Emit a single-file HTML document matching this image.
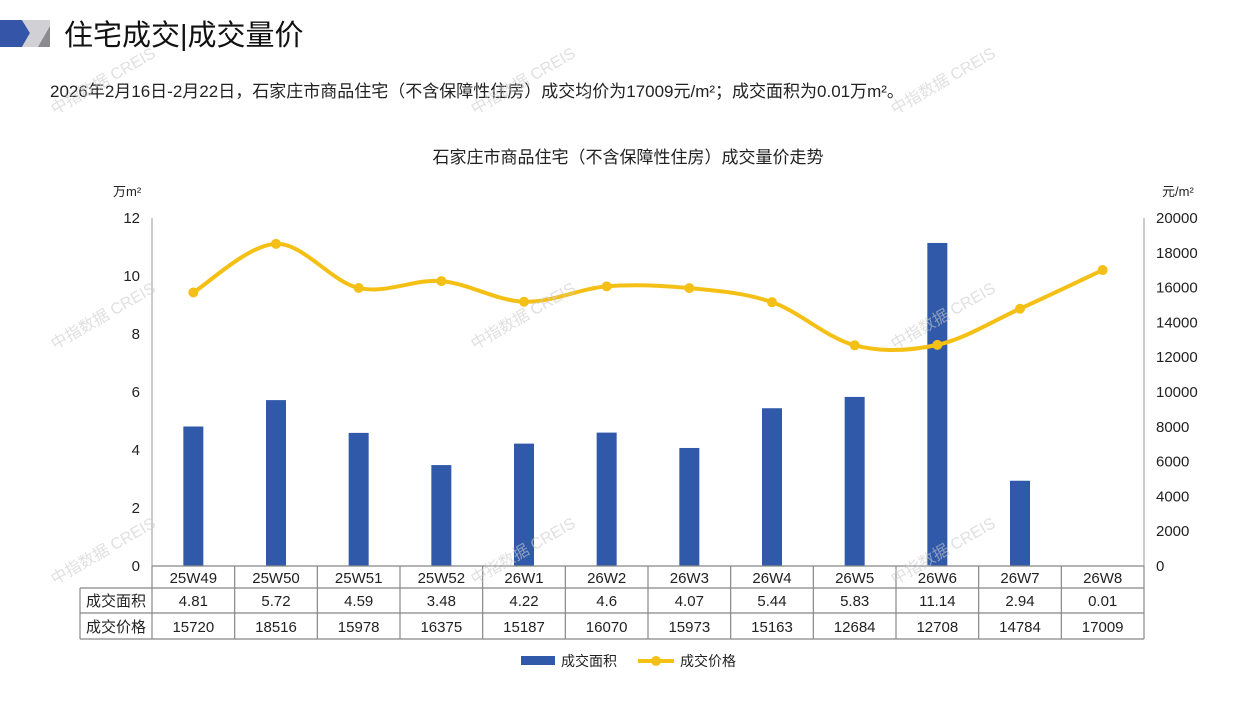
<!DOCTYPE html>
<html><head><meta charset="utf-8"><style>
body{margin:0;background:#fff;width:1257px;height:706px;overflow:hidden;font-family:"Liberation Sans","Noto Sans CJK SC",sans-serif;}
svg text{font-family:"Liberation Sans","Noto Sans CJK SC",sans-serif;}
</style></head><body>
<svg id="s" width="1257" height="706" xmlns="http://www.w3.org/2000/svg">
<polygon points="0,20 22,20 30,33 22,47 0,47" fill="#3556a8"/>
<polygon points="22,20 50,20 50,47 22,47 30,33" fill="#d0d0d5"/>
<polygon points="50,26 50,47 38,47" fill="#8a8a8f"/>
<text x="64" y="45" font-size="29" fill="#111">住宅成交|成交量价</text>
<text x="50" y="97" font-size="17" fill="#222">2026年2月16日-2月22日，石家庄市商品住宅（不含保障性住房）成交均价为17009元/m²；成交面积为0.01万m²。</text>
<text x="628" y="163" font-size="17" fill="#222" text-anchor="middle">石家庄市商品住宅（不含保障性住房）成交量价走势</text>
<text x="113" y="196" font-size="13" fill="#222">万m²</text>
<text x="1162" y="196" font-size="13" fill="#222">元/m²</text>
<g id="ax" font-size="15" fill="#222"></g>
<line x1="152" y1="218" x2="152" y2="566" stroke="#999"/>
<line x1="1144" y1="218" x2="1144" y2="566" stroke="#999"/>
<g id="bars" fill="#3059a9"></g>
<path id="ln" fill="none" stroke="#f5c016" stroke-width="4"/>
<g id="pts" fill="#f5c016"></g>
<g id="tbl" stroke="#888" stroke-width="1.2" fill="none"></g>
<g id="tt" font-size="15" fill="#222" text-anchor="middle"></g>
<rect x="521" y="656" width="34" height="9" fill="#3059a9"/>
<text x="561" y="666" font-size="14" fill="#222">成交面积</text>
<line x1="638" y1="661" x2="674" y2="661" stroke="#f5c016" stroke-width="4"/>
<circle cx="656" cy="661" r="5" fill="#f5c016"/>
<text x="680" y="666" font-size="14" fill="#222">成交价格</text>
<g font-size="16" fill="#ccc" opacity="0.6">
<text transform="translate(55,115) rotate(-30)">中指数据 CREIS</text>
<text transform="translate(475,115) rotate(-30)">中指数据 CREIS</text>
<text transform="translate(895,115) rotate(-30)">中指数据 CREIS</text>
<text transform="translate(55,350) rotate(-30)">中指数据 CREIS</text>
<text transform="translate(475,350) rotate(-30)">中指数据 CREIS</text>
<text transform="translate(895,350) rotate(-30)">中指数据 CREIS</text>
<text transform="translate(55,585) rotate(-30)">中指数据 CREIS</text>
<text transform="translate(475,585) rotate(-30)">中指数据 CREIS</text>
<text transform="translate(895,585) rotate(-30)">中指数据 CREIS</text>
</g>
</svg>
<script>
const NS="http://www.w3.org/2000/svg";
function el(p,t,a,txt){const e=document.createElementNS(NS,t);for(const k in a)e.setAttribute(k,a[k]);if(txt!==undefined)e.textContent=txt;document.getElementById(p).appendChild(e);}
const cats=["25W49","25W50","25W51","25W52","26W1","26W2","26W3","26W4","26W5","26W6","26W7","26W8"];
const area=["4.81","5.72","4.59","3.48","4.22","4.6","4.07","5.44","5.83","11.14","2.94","0.01"];
const price=[15720,18516,15978,16375,15187,16070,15973,15163,12684,12708,14784,17009];
const w=(1144-152)/12;
for(let i=0;i<=6;i++){const y=566-i*58;el("ax","text",{x:140,y:y+5,"text-anchor":"end"},String(i*2));}
for(let i=0;i<=10;i++){const y=566-i*34.8;el("ax","text",{x:1156,y:y+5},String(i*2000));}
const P=[];
for(let i=0;i<12;i++){const cx=152+w*(i+0.5);const h=parseFloat(area[i])*29;el("bars","rect",{x:cx-10,y:566-h,width:20,height:h});
P.push([cx,566-price[i]*0.0174]);}
let d="M"+P[0];for(let i=0;i<11;i++){const p0=P[Math.max(0,i-1)],p1=P[i],p2=P[i+1],p3=P[Math.min(11,i+2)];
const c1=[p1[0]+(p2[0]-p0[0])/6,p1[1]+(p2[1]-p0[1])/6],c2=[p2[0]-(p3[0]-p1[0])/6,p2[1]-(p3[1]-p1[1])/6];d+=" C"+c1+" "+c2+" "+p2;}
document.getElementById("ln").setAttribute("d",d);
P.forEach(p=>el("pts","circle",{cx:p[0],cy:p[1],r:5}));
el("tbl","line",{x1:152,y1:566,x2:1144,y2:566});
[588,613,639].forEach(y=>el("tbl","line",{x1:80,y1:y,x2:1144,y2:y}));
el("tbl","line",{x1:80,y1:588,x2:80,y2:639});
for(let i=0;i<=12;i++){const x=152+w*i;el("tbl","line",{x1:x,y1:566,x2:x,y2:639});}
el("tt","text",{x:116,y:606},"成交面积");el("tt","text",{x:116,y:632},"成交价格");
for(let i=0;i<12;i++){const cx=152+w*(i+0.5);el("tt","text",{x:cx,y:583},cats[i]);el("tt","text",{x:cx,y:606},area[i]);el("tt","text",{x:cx,y:632},String(price[i]));}
</script>
</body></html>
